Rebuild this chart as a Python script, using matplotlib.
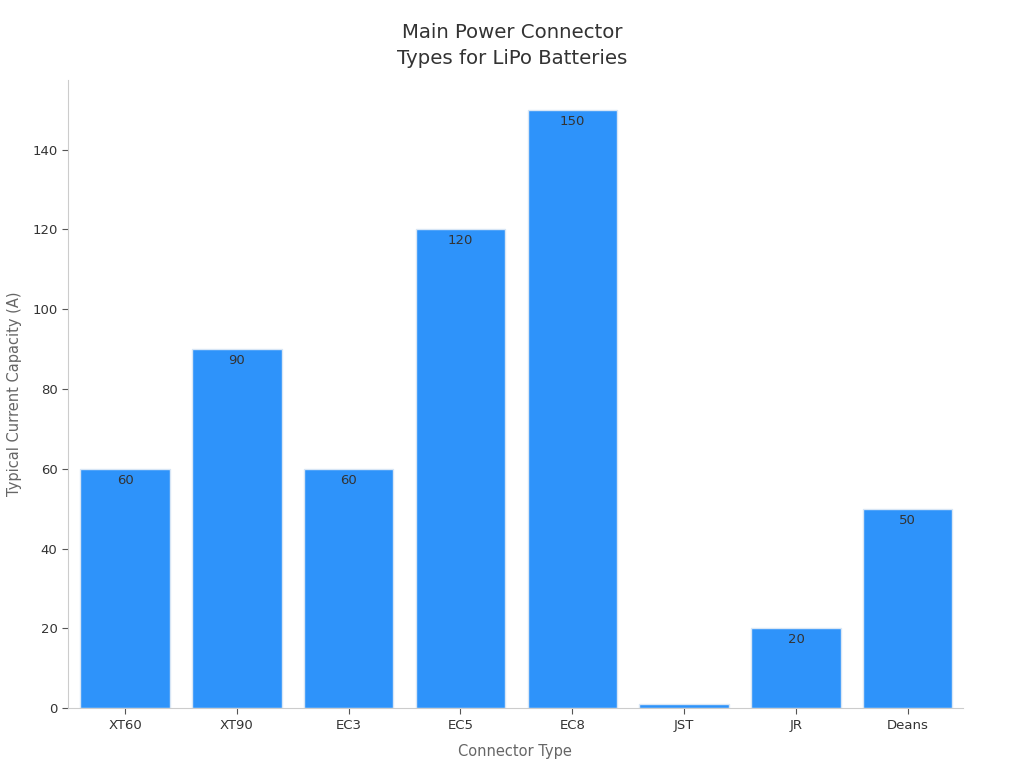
import matplotlib
matplotlib.use('Agg')
import matplotlib.pyplot as plt

connectors = ['XT60', 'XT90', 'EC3', 'EC5', 'EC8', 'JST', 'JR', 'Deans']
capacity = [60, 90, 60, 120, 150, 1, 20, 50]

fig = plt.figure(figsize=(10.24, 7.68), dpi=100)
ax = fig.add_axes([0.0664, 0.078, 0.8736, 0.818])

x = range(len(connectors))
bars = ax.bar(x, capacity, width=0.8, color='#2e93fa', edgecolor='#d8e6f5', linewidth=1)

# value labels just under the top of each bar (clipped to the axes, like the JST one)
for b, v in zip(bars, capacity):
    ax.annotate(str(v), (b.get_x() + b.get_width() / 2, v), xytext=(0, -3.5),
                textcoords='offset points', ha='center', va='top',
                fontsize=9.5, color='#333333', annotation_clip=True, clip_on=True)

ax.set_xticks(list(x))
ax.set_xticklabels(connectors)
ax.set_xlim(-0.51, 7.49)
ax.set_ylim(0, 157.5)

fig.suptitle('Main Power Connector\nTypes for LiPo Batteries', fontsize=14.2, color='#333333',
             x=0.5, y=0.97, va='top', linespacing=1.45)
ax.set_xlabel('Connector Type', fontsize=10.5, color='#666666', labelpad=9)
ax.set_ylabel('Typical Current Capacity (A)', fontsize=10.5, color='#666666', labelpad=7)

for s in ['top', 'right']:
    ax.spines[s].set_visible(False)
for s in ['left', 'bottom']:
    ax.spines[s].set_color('#cccccc')
ax.tick_params(colors='#333333', labelsize=9.5)
ax.tick_params(axis='both', color='#555555', length=4)

fig.savefig('out.png', dpi=100)
